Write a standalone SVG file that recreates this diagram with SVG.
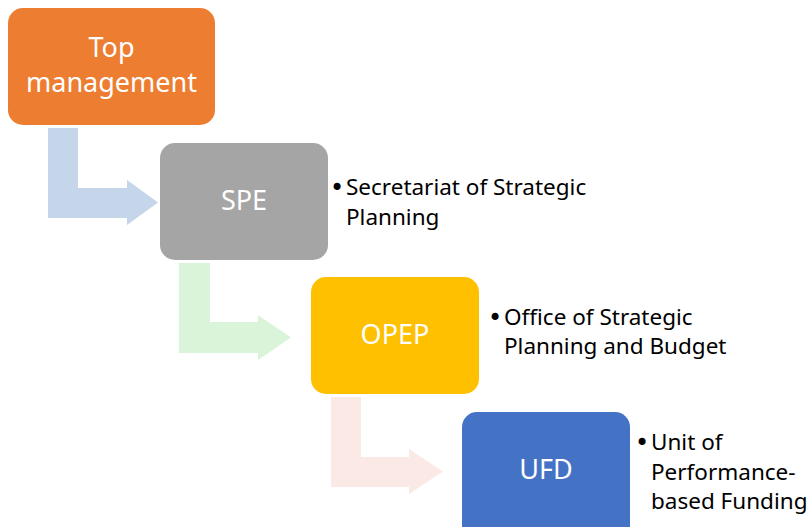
<svg xmlns="http://www.w3.org/2000/svg" width="808" height="527" viewBox="0 0 808 527">
<style>
.box{stroke:none}
.t{font-family:"Noto Sans","Open Sans",sans-serif;font-size:27px;fill:#fff;text-anchor:middle}
.d{font-family:"Noto Sans","Open Sans",sans-serif;font-size:22.5px;fill:#000}
.b{font-family:"DejaVu Sans",sans-serif;font-size:24px;fill:#000}
</style>
<rect width="808" height="527" fill="#fff"/>
<g id="connectors">
<path d="M48,128 H78 V188 H127 V180 L158,202.5 L127,225 V218 H48 Z" fill="#C5D5EA"/>
<path d="M179,263 H210 V322 H258 V315 L291,337.5 L258,360 V353 H179 Z" fill="#DAF4DA"/>
<path d="M331,397 H361 V457 H409 V449 L443,471.5 L409,494 V487 H331 Z" fill="#FBE9E5"/>
</g>
<g id="top">
<rect class="box" x="8" y="8" width="207" height="117" rx="15" fill="#ED7D31"/>
<text class="t" x="111.5" y="57">Top</text>
<text class="t" x="111.5" y="92">management</text>
</g>
<g id="spe">
<rect class="box" x="160" y="143" width="168" height="117" rx="15" fill="#A5A5A5"/>
<text class="t" x="244" y="210">SPE</text>
<text class="b" x="330" y="196">•</text>
<text class="d" x="346" y="195">Secretariat of Strategic</text>
<text class="d" x="346" y="225">Planning</text>
</g>
<g id="opep">
<rect class="box" x="311" y="277" width="168" height="117" rx="15" fill="#FFC000"/>
<text class="t" x="395" y="344">OPEP</text>
<text class="b" x="488" y="326">•</text>
<text class="d" x="504" y="325">Office of Strategic</text>
<text class="d" x="504" y="354">Planning and Budget</text>
</g>
<g id="ufd">
<rect class="box" x="462" y="412" width="168" height="130" rx="15" fill="#4472C4"/>
<text class="t" x="546" y="479">UFD</text>
<text class="b" x="635" y="451">•</text>
<text class="d" x="651" y="450">Unit of</text>
<text class="d" x="651" y="480">Performance-</text>
<text class="d" x="651" y="509">based Funding</text>
</g>
</svg>
